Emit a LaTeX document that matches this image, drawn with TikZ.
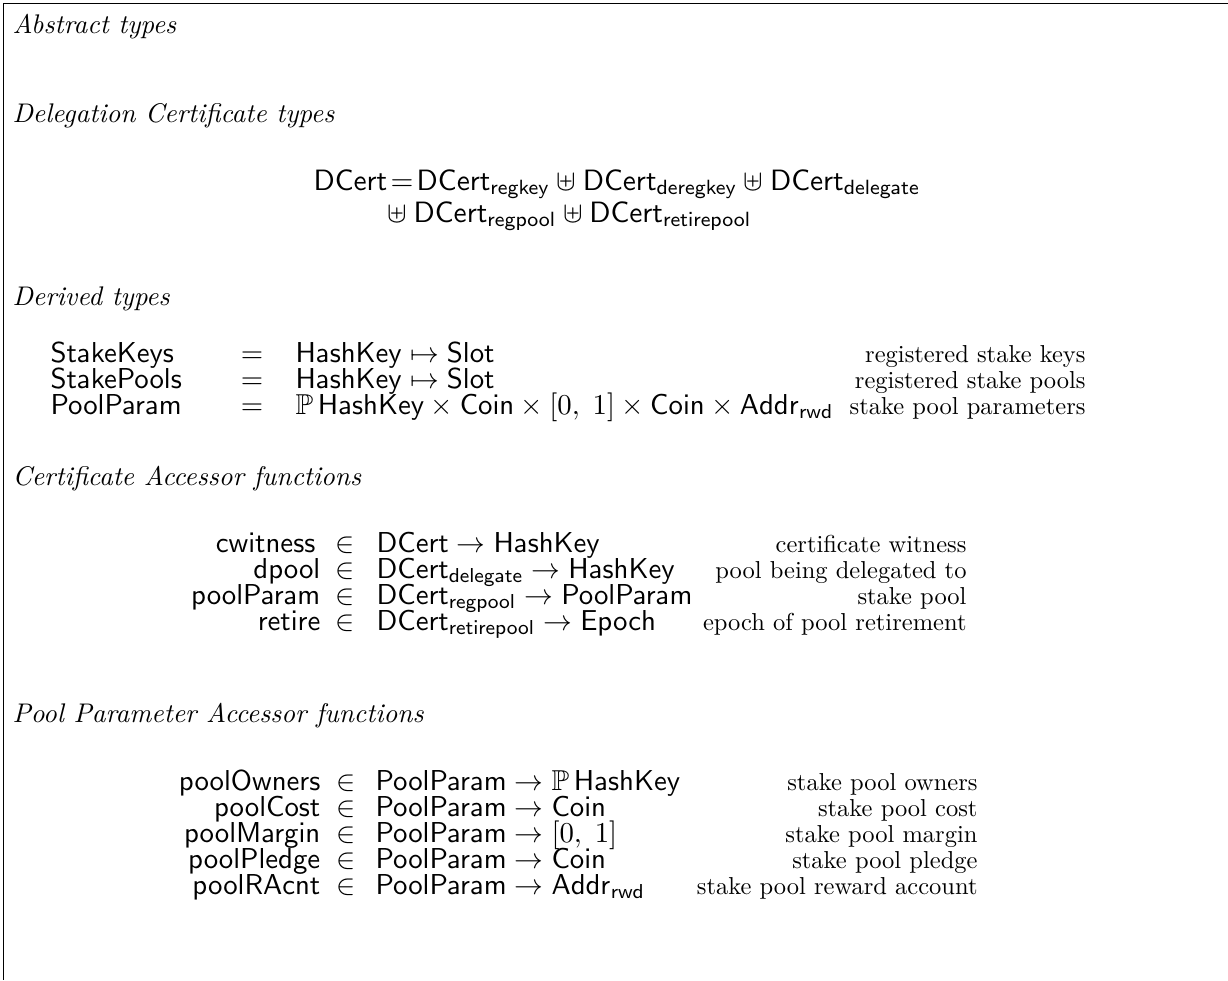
\documentclass[tikz,border=0pt]{standalone}
\usepackage{amssymb}
\tikzset{
  hdr/.style={anchor=base west, inner sep=0pt, font=\itshape, scale=1.1, transform shape},
  ml/.style={anchor=base west, inner sep=0pt, scale=1.175, transform shape},
  mr/.style={anchor=base east, inner sep=0pt, scale=1.175, transform shape},
  mc/.style={anchor=base, inner sep=0pt, scale=1.175, transform shape},
  eqline/.style={anchor=base west, inner sep=0pt, scale=1.2, transform shape},
  tr/.style={anchor=base east, inner sep=0pt},
  frame/.style={line width=0.5pt, draw=black}
}
\newcommand{\sfm}[1]{\mathsf{#1}}
\begin{document}
\begin{tikzpicture}[x=0.40816pt, y=-0.40816pt]
\useasboundingbox (0,0) rectangle (1228,980);
\coordinate (ftr) at (1228,3.5);
\coordinate (ftl) at (3.5,3.5);
\coordinate (fbl) at (3.5,980);
\draw[frame] (ftr) -- (ftl) -- (fbl);

\node[hdr] (h1) at (12,33) {Abstract types};
\node[hdr] (h2) at (12,122) {Delegation Certificate types};
\node[eqline] (dc1) at (313,190) {$\sfm{DCert}\mskip2mu{=}\mskip2mu\sfm{DCert}_{\sfm{regkey}} \uplus \sfm{DCert}_{\sfm{deregkey}} \uplus \sfm{DCert}_{\sfm{delegate}}$};
\node[eqline] (dc2) at (387,222) {$\uplus\mskip\medmuskip \sfm{DCert}_{\sfm{regpool}} \uplus \sfm{DCert}_{\sfm{retirepool}}$};

\node[hdr] (h3) at (12,305) {Derived types};
\node[ml] (a1) at (50,362) {$\sfm{StakeKeys}$};
\node[mc] (a2) at (252,362) {$=$};
\node[ml] (a3) at (295,362) {$\sfm{HashKey}\mapsto\sfm{Slot}$};
\node[tr] (a4) at (1086,362) {registered stake keys};
\node[ml] (b1) at (50,388) {$\sfm{StakePools}$};
\node[mc] (b2) at (252,388) {$=$};
\node[ml] (b3) at (295,388) {$\sfm{HashKey}\mapsto\sfm{Slot}$};
\node[tr] (b4) at (1086,388) {registered stake pools};
\node[ml] (p1) at (50,414) {$\sfm{PoolParam}$};
\node[mc] (p2) at (252,414) {$=$};
\node[ml] (p3) at (295,414) {$\mathbb{P}\,\sfm{HashKey}\times\sfm{Coin}\times[0,\;1]\times\sfm{Coin}\times\sfm{Addr}_{\sfm{rwd}}$};
\node[tr] (p4) at (1086,414) {stake pool parameters};

\node[hdr] (h4) at (12,485) {Certificate Accessor functions};
\node[mr] (c1) at (316,552) {$\sfm{cwitness}$};
\node[mc] (c2) at (345,552) {$\in$};
\node[ml] (c3) at (376,552) {$\sfm{DCert}\to\sfm{HashKey}$};
\node[tr] (c4) at (967,552) {certificate witness};
\node[mr] (d1) at (321,578) {$\sfm{dpool}$};
\node[mc] (d2) at (345,578) {$\in$};
\node[ml] (d3) at (376,578) {$\sfm{DCert}_{\sfm{delegate}}\to\sfm{HashKey}$};
\node[tr] (d4) at (967,578) {pool being delegated to};
\node[mr] (e1) at (321,604) {$\sfm{poolParam}$};
\node[mc] (e2) at (345,604) {$\in$};
\node[ml] (e3) at (376,604) {$\sfm{DCert}_{\sfm{regpool}}\to\sfm{PoolParam}$};
\node[tr] (e4) at (967,604) {stake pool};
\node[mr] (f1) at (321,630) {$\sfm{retire}$};
\node[mc] (f2) at (345,630) {$\in$};
\node[ml] (f3) at (376,630) {$\sfm{DCert}_{\sfm{retirepool}}\to\sfm{Epoch}$};
\node[tr] (f4) at (967,630) {epoch of pool retirement};

\node[hdr] (h5) at (12,722) {Pool Parameter Accessor functions};
\node[mr] (g1) at (321,790) {$\sfm{poolOwners}$};
\node[mc] (g2) at (346,790) {$\in$};
\node[ml] (g3) at (375,790) {$\sfm{PoolParam}\to\mathbb{P}\,\sfm{HashKey}$};
\node[tr] (g4) at (978,790) {stake pool owners};
\node[mr] (i1) at (321,816) {$\sfm{poolCost}$};
\node[mc] (i2) at (346,816) {$\in$};
\node[ml] (i3) at (375,816) {$\sfm{PoolParam}\to\sfm{Coin}$};
\node[tr] (i4) at (978,816) {stake pool cost};
\node[mr] (j1) at (321,842) {$\sfm{poolMargin}$};
\node[mc] (j2) at (346,842) {$\in$};
\node[ml] (j3) at (375,842) {$\sfm{PoolParam}\to[0,\;1]$};
\node[tr] (j4) at (978,842) {stake pool margin};
\node[mr] (k1) at (321,868) {$\sfm{poolPledge}$};
\node[mc] (k2) at (346,868) {$\in$};
\node[ml] (k3) at (375,868) {$\sfm{PoolParam}\to\sfm{Coin}$};
\node[tr] (k4) at (978,868) {stake pool pledge};
\node[mr] (l1) at (321,894) {$\sfm{poolRAcnt}$};
\node[mc] (l2) at (346,894) {$\in$};
\node[ml] (l3) at (375,894) {$\sfm{PoolParam}\to\sfm{Addr}_{\sfm{rwd}}$};
\node[tr] (l4) at (978,894) {stake pool reward account};
\end{tikzpicture}
\end{document}
